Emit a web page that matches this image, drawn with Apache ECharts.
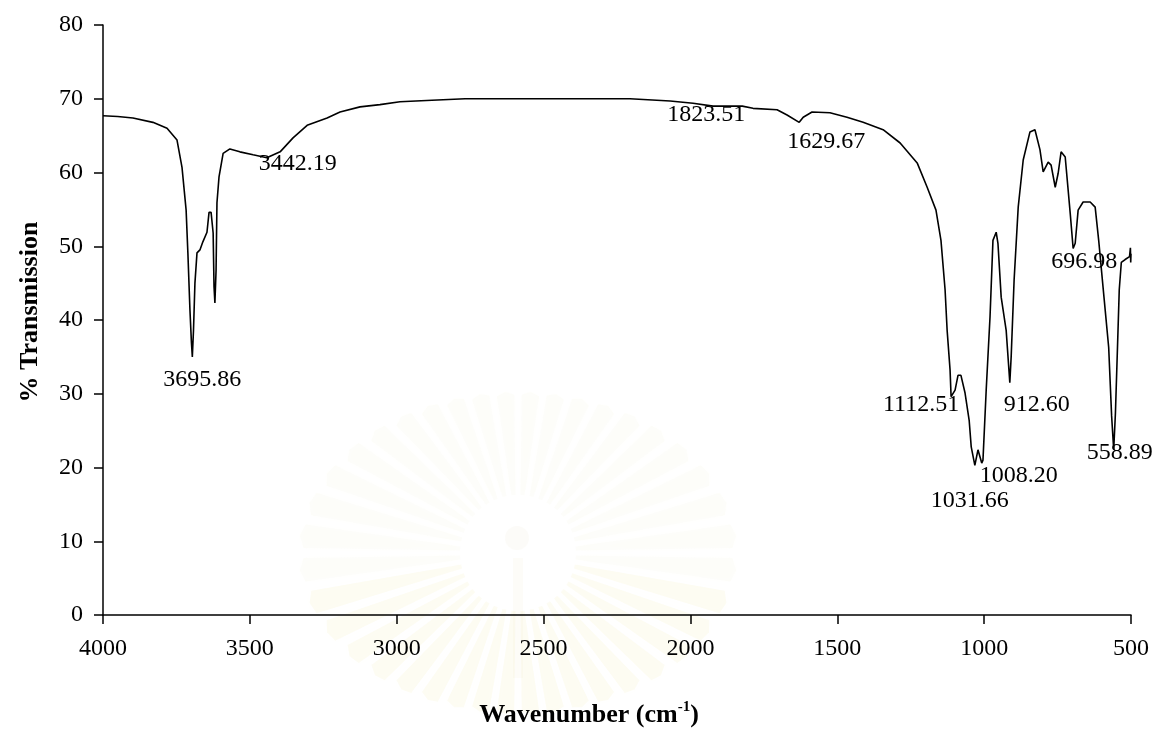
<!DOCTYPE html>
<html>
<head>
<meta charset="utf-8">
<script src="https://cdn.jsdelivr.net/npm/echarts@6/dist/echarts.min.js"></script>
<style>
  html, body { margin: 0; padding: 0; background: #fff; }
  #chart { width: 1168px; height: 735px; }
</style>
</head>
<body>
<div id="chart"></div>
<script>
// ---- Data ----
var wavenumbers = [
  4000, 3950, 3898, 3830, 3782, 3748, 3731, 3717, 3711, 3704, 3699, 3695.86, 3692, 3687, 3680,
  3670, 3660, 3646, 3639, 3632, 3625, 3622, 3619, 3615, 3612, 3605, 3591, 3568, 3534, 3489,
  3442.19, 3397, 3353, 3305, 3237, 3193, 3125, 3057, 2989, 2880, 2767, 2500, 2206, 2069, 1991,
  1923, 1823.51, 1787, 1705, 1671, 1629.67, 1616, 1586, 1525, 1467, 1412, 1344, 1286, 1228, 1194,
  1164, 1147, 1133, 1126, 1116, 1112.51, 1099, 1089, 1079, 1065, 1051, 1044, 1031.66, 1021, 1008.2,
  1004, 993, 980, 970, 959, 953, 942, 925, 912.6, 908, 898, 884, 867, 844, 827,
  810, 799, 782, 772, 758, 748, 738, 724, 707, 696.98, 690, 680, 663, 639, 622,
  610, 592, 576, 566, 558.89, 553, 546, 540, 533, 520, 505, 502, 501, 500
];
var transmission = [
  67.7, 67.6, 67.4, 66.8, 66.0, 64.4, 60.7, 54.9, 49.1, 41.4, 37.0, 35.0, 38.5, 45.0, 49.1,
  49.5, 50.6, 51.9, 54.6, 54.6, 51.8, 44.5, 42.3, 46.8, 55.9, 59.4, 62.6, 63.2, 62.8, 62.4,
  62.0, 62.8, 64.7, 66.4, 67.4, 68.2, 68.9, 69.2, 69.6, 69.8, 70.0, 70.0, 70.0, 69.7, 69.4,
  69.0, 69.0, 68.7, 68.5, 67.8, 66.8, 67.5, 68.2, 68.1, 67.5, 66.8, 65.8, 64.0, 61.3, 58.0,
  54.9, 50.8, 44.1, 38.6, 33.2, 29.6, 30.5, 32.5, 32.5, 30.1, 26.4, 22.8, 20.3, 22.4, 20.6,
  21.0, 30.5, 40.4, 50.8, 51.9, 50.4, 43.1, 38.6, 31.5, 35.0, 45.4, 55.3, 61.7, 65.5, 65.8,
  63.1, 60.1, 61.4, 61.0, 58.0, 59.9, 62.8, 62.1, 54.5, 49.7, 50.4, 54.9, 56.0, 56.0, 55.3,
  50.8, 43.1, 36.3, 27.0, 22.4, 27.4, 36.3, 44.1, 47.8, 48.2, 48.6, 49.8, 47.8, 49.0
];
var peakWavenumbers = [3695.86, 3442.19, 1823.51, 1629.67, 1112.51, 912.60, 1008.20, 1031.66, 696.98, 558.89];
var peakTransmission = [35.0, 62.0, 69.0, 66.8, 29.6, 31.5, 20.6, 20.3, 49.7, 22.4];
var peakLabels = ['3695.86', '3442.19', '1823.51', '1629.67', '1112.51', '912.60', '1008.20', '1031.66', '696.98', '558.89'];
var xTicks = [4000, 3500, 3000, 2500, 2000, 1500, 1000, 500];
var yTicks = [0, 10, 20, 30, 40, 50, 60, 70, 80];

// ---- Styling (label offsets in pixels, relative to each peak) ----
var labelOffsets = [[10, 23], [31, 6], [-36, 9], [27, 19], [-30, 8], [27, 22], [37, 13], [-5, 35], [11, 13], [6, 3]];

var FONT = '"Liberation Serif", "Times New Roman", serif';

var lineData = wavenumbers.map(function (w, i) { return [w, transmission[i]]; });
var peakData = peakWavenumbers.map(function (w, i) {
  return {
    value: [w, peakTransmission[i]],
    label: { formatter: peakLabels[i], offset: labelOffsets[i], color: '#000' }
  };
});

// very faint watermark (decorative sunburst behind the plot)
function watermark() {
  var cx = 518, cy = 553, r0 = 58, a = 215, b = 158, n = 40;
  var els = [];
  for (var k = 0; k < n; k++) {
    var th = (k + 0.5) / n * Math.PI * 2;
    var R = 1 / Math.sqrt(Math.pow(Math.cos(th) / a, 2) + Math.pow(Math.sin(th) / b, 2));
    var wi = 0.035, wo = 0.055;
    var pts = [
      [cx + r0 * Math.cos(th - wi), cy + r0 * Math.sin(th - wi)],
      [cx + R * Math.cos(th - wo), cy + R * Math.sin(th - wo)],
      [cx + R * 1.02 * Math.cos(th), cy + R * 1.02 * Math.sin(th)],
      [cx + R * Math.cos(th + wo), cy + R * Math.sin(th + wo)],
      [cx + r0 * Math.cos(th + wi), cy + r0 * Math.sin(th + wi)]
    ];
    var lower = Math.sin(th) > 0.2;
    els.push({
      type: 'polygon', silent: true, z: -10,
      shape: { points: pts },
      style: { fill: lower ? 'rgba(240,225,150,0.11)' : 'rgba(235,230,195,0.09)', shadowBlur: 8, shadowColor: 'rgba(240,226,170,0.15)' }
    });
  }
  els.push({ type: 'circle', silent: true, z: -10, shape: { cx: cx - 1, cy: cy - 15, r: 12 }, style: { fill: 'rgba(235,230,210,0.15)' } });
  els.push({ type: 'rect', silent: true, z: -10, shape: { x: cx - 5, y: cy + 5, width: 10, height: 120 }, style: { fill: 'rgba(240,232,200,0.12)' } });
  return els;
}

var chart = echarts.init(document.getElementById('chart'), null, { renderer: 'canvas' });
chart.setOption({
  backgroundColor: '#ffffff',
  animation: false,
  graphic: watermark(),
  grid: { left: 103, right: 37, top: 25, bottom: 120, containLabel: false },
  xAxis: {
    type: 'value',
    inverse: true,
    min: xTicks[xTicks.length - 1],
    max: xTicks[0],
    interval: 500,
    name: '{b|Wavenumber (cm}{s|-1}{b|)}',
    nameLocation: 'middle',
    nameGap: 85,
    nameTextStyle: {
      padding: [0, 56, 0, 0],
      rich: {
        b: { fontFamily: FONT, fontSize: 26, fontWeight: 'bold', color: '#000', lineHeight: 28, verticalAlign: 'bottom' },
        s: { fontFamily: FONT, fontSize: 15, fontWeight: 'bold', color: '#000', lineHeight: 28, verticalAlign: 'top', padding: [0, 0, 12, 0] }
      }
    },
    axisLine: { show: true, onZero: false, lineStyle: { color: '#000', width: 1.5 } },
    axisTick: { show: true, inside: false, length: 9, lineStyle: { color: '#000', width: 1.5 } },
    axisLabel: { color: '#000', fontFamily: FONT, fontSize: 24, margin: 22,
      formatter: function (v) { return xTicks.indexOf(v) >= 0 ? String(v) : ''; } },
    splitLine: { show: false }
  },
  yAxis: {
    type: 'value',
    min: yTicks[0],
    max: yTicks[yTicks.length - 1],
    interval: 10,
    name: '% Transmission',
    nameLocation: 'middle',
    nameGap: 60,
    nameTextStyle: { fontFamily: FONT, fontSize: 26, fontWeight: 'bold', color: '#000', padding: [0, 0, 0, 16] },
    axisLine: { show: true, lineStyle: { color: '#000', width: 1.5 } },
    axisTick: { show: true, inside: false, length: 9, lineStyle: { color: '#000', width: 1.5 } },
    axisLabel: { color: '#000', fontFamily: FONT, fontSize: 24, margin: 20 },
    splitLine: { show: false }
  },
  series: [
    {
      type: 'line',
      data: lineData,
      showSymbol: false,
      symbol: 'none',
      lineStyle: { color: '#000', width: 1.6 },
      z: 3
    },
    {
      type: 'scatter',
      data: peakData,
      symbolSize: 0,
      itemStyle: { color: '#000', opacity: 1 },
      label: {
        show: true,
        position: 'inside',
        color: '#000',
        opacity: 1,
        textBorderWidth: 0,
        fontFamily: FONT,
        fontSize: 24
      },
      emphasis: { disabled: true },
      z: 4
    }
  ]
});
</script>
</body>
</html>
